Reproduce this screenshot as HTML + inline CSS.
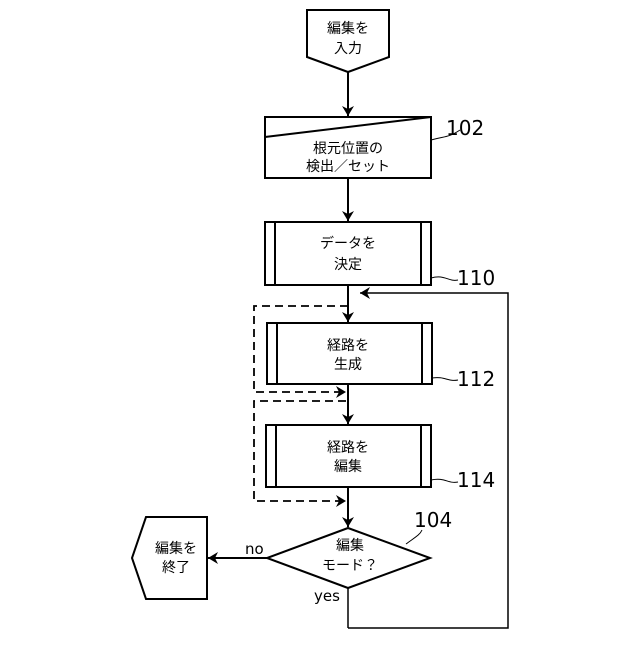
<!DOCTYPE html>
<html><head><meta charset="utf-8"><style>body{margin:0;background:#fff}</style></head><body>
<svg width="640" height="640" xmlns="http://www.w3.org/2000/svg" font-family="'DejaVu Sans','Noto Sans CJK JP',sans-serif">
<defs><marker id="a" markerWidth="12" markerHeight="12" refX="10" refY="6" orient="auto" markerUnits="userSpaceOnUse"><path d="M0,0 L10,6 L0,12 L3,6 Z" fill="#000"/></marker></defs>
<g fill="none" stroke="#000" stroke-width="2">
<polygon points="307,10 389,10 389,57 348,72 307,57" fill="#fff"/>
<line x1="348" y1="72" x2="348" y2="116" marker-end="url(#a)"/>
<rect x="265" y="117" width="166" height="61"/>
<line x1="265" y1="137" x2="431" y2="117"/>
<line x1="348" y1="178" x2="348" y2="221" marker-end="url(#a)"/>
<rect x="265" y="222" width="166" height="63"/><line x1="275" y1="222" x2="275" y2="285"/><line x1="421" y1="222" x2="421" y2="285"/>
<line x1="348" y1="285" x2="348" y2="322" marker-end="url(#a)"/>
<polyline points="348,628 508,628 508,293 360,293" marker-end="url(#a)" stroke-width="1.5"/>
<rect x="267" y="323" width="165" height="61"/><line x1="277" y1="323" x2="277" y2="384"/><line x1="422" y1="323" x2="422" y2="384"/>
<line x1="348" y1="384" x2="348" y2="424" marker-end="url(#a)"/>
<rect x="266" y="425" width="165" height="62"/><line x1="276" y1="425" x2="276" y2="487"/><line x1="421" y1="425" x2="421" y2="487"/>
<line x1="348" y1="487" x2="348" y2="527" marker-end="url(#a)"/>
<polygon points="348,528 430,558 348,588 267,558" fill="#fff"/>
<line x1="348" y1="588" x2="348" y2="628" stroke-width="1.5"/>
<line x1="267" y1="558" x2="208" y2="558" marker-end="url(#a)"/>
<polygon points="146,517 207,517 207,599 146,599 132,558"/>
<g stroke-dasharray="8,5" stroke-width="1.8"><polyline points="348,306 254,306 254,392 346,392" marker-end="url(#a)"/><polyline points="346,401 254,401 254,501 346,501" marker-end="url(#a)"/></g>
<g stroke-width="1"><path d="M431,140 C445,136 448,138 460,130"/><path d="M431,278 C445,274 448,282 458,280"/><path d="M432,378 C445,376 448,382 458,380"/><path d="M431,480 C445,477 448,484 458,482"/><path d="M406,544 C414,538 420,535 422,530"/></g>
</g>
<g font-size="14" text-anchor="middle" fill="#000" font-family="'Noto Sans CJK JP',sans-serif">
<text x="348" y="33">編集を</text><text x="348" y="53">入力</text>
<text x="348" y="153">根元位置の</text><text x="348" y="171">検出／セット</text>
<text x="348" y="248">データを</text><text x="348" y="269">決定</text>
<text x="348" y="350">経路を</text><text x="348" y="369">生成</text>
<text x="348" y="452">経路を</text><text x="348" y="471">編集</text>
<text x="350" y="550">編集</text><text x="350" y="570">モード？</text>
<text x="176" y="553">編集を</text><text x="176" y="572">終了</text>
</g>
<g font-size="20" fill="#000"><text x="446" y="135">102</text><text x="457" y="285">110</text><text x="457" y="386">112</text><text x="457" y="487">114</text><text x="414" y="527">104</text></g>
<g font-size="15" fill="#000"><text x="245" y="554">no</text><text x="314" y="601">yes</text></g>
</svg>
</body></html>
